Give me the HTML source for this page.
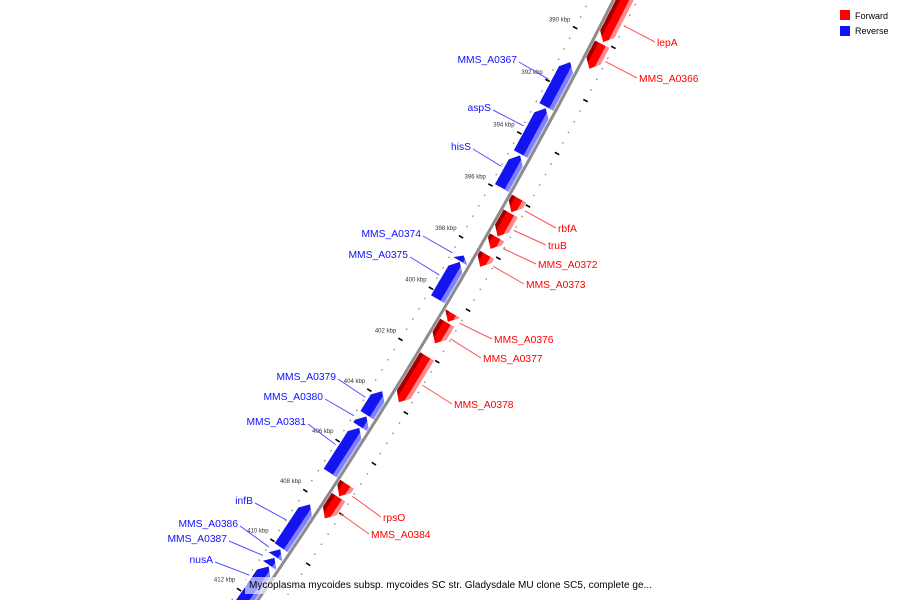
<!DOCTYPE html>
<html><head><meta charset="utf-8"><style>
html,body{margin:0;padding:0;background:#fff;width:900px;height:600px;overflow:hidden;}
svg{display:block;font-family:"Liberation Sans","DejaVu Sans",sans-serif;overflow:hidden;}
</style></head><body>
<svg id="map" width="900" height="600" viewBox="0 0 900 600" xmlns="http://www.w3.org/2000/svg">
  <defs><clipPath id="frame"><rect x="0" y="0" width="900" height="600"/></clipPath></defs>
  <g clip-path="url(#frame)">
  <g id="ticks"></g>
  <g id="backbone"></g>
  <g id="genes"></g>
  <g id="labels"></g>
  <g>
    <rect x="840" y="10" width="10" height="10" fill="#ff0000"/>
    <text x="855" y="19" font-size="9" fill="#000">Forward</text>
    <rect x="840" y="26" width="10" height="10" fill="#1010ff"/>
    <text x="855" y="34" font-size="9" fill="#000">Reverse</text>
  </g>
  <g>
    <rect x="245" y="577" width="412" height="17" fill="#fff" fill-opacity="0.6"/>
    <text x="249" y="588" font-size="10" fill="#000" textLength="403" lengthAdjust="spacing">Mycoplasma mycoides subsp. mycoides SC str. Gladysdale MU clone SC5, complete ge...</text>
  </g>
  </g>
</svg>
<script>
// ---- data ----
const geneNames = ["lepA","MMS_A0366","MMS_A0367","aspS","hisS","rbfA","truB","MMS_A0372","MMS_A0373","MMS_A0374","MMS_A0375","MMS_A0376","MMS_A0377","MMS_A0378","MMS_A0379","MMS_A0380","MMS_A0381","rpsO","MMS_A0384","infB","MMS_A0386","MMS_A0387","nusA"];
const geneStart = [387.5,390.08,391.1,392.85,394.65,395.93,396.5,397.42,398.09,398.5,398.75,400.36,400.72,402.03,403.8,404.8,405.25,407.06,407.58,408.3,410.1,410.45,410.8];
const geneEnd   = [390.0,391.0,392.8,394.6,395.9,396.45,397.38,397.86,398.55,398.72,400.2,400.68,401.52,403.82,404.75,405.2,407.05,407.54,408.42,410.04,410.4,410.75,413.0];
const geneStrand = [1,1,-1,-1,-1,1,1,1,1,-1,-1,1,1,1,-1,-1,-1,1,1,-1,-1,-1,-1];
// label text anchor positions (layout)
const labelX = [657,639,517,491,471,558,548,538,526,421,408,494,483,454,336,323,306,383,371,253,238,227,213];
const labelY = [42,78,59,107,146,228,245,264,284,233,254,339,358,404,376,396,421,517,534,500,523,538,559];
const tickMajor = [390,392,394,396,398,400,402,404,406,408,410,412];
const tickMinorStep = 0.4;
const axisMin = 386, axisMax = 413.4;

// ---- geometry ----
const CX=-4103, CY=-2389, R=5287;
function ang(k){return (27.32+(k-390)*0.3241)*Math.PI/180;}
function pt(k,r){const a=ang(k);return [CX+r*Math.cos(a), CY+r*Math.sin(a)];}
const NS="http://www.w3.org/2000/svg";
function mk(tag,attrs,parent){const e=document.createElementNS(NS,tag);for(const k in attrs)e.setAttribute(k,attrs[k]);parent.appendChild(e);return e;}
function arcPts(k1,k2,r){const out=[];const n=Math.max(2,Math.ceil(Math.abs(k2-k1)/0.1));for(let i=0;i<=n;i++){out.push(pt(k1+(k2-k1)*i/n,r));}return out;}

// backbone
const bb=document.getElementById('backbone');
const bbPts=arcPts(axisMin,axisMax,R).map(p=>p[0].toFixed(1)+','+p[1].toFixed(1)).join(' ');
const bbl=mk('polyline',{points:bbPts,fill:'none',stroke:'#8c8c8c','stroke-width':3},bb);



// ticks
const tg=document.getElementById('ticks');
for(let k=axisMin;k<=axisMax+1e-6;k+=tickMinorStep){
  const kk=Math.round(k*10)/10;
  const isMajor=tickMajor.some(t=>Math.abs(t-kk)<1e-6);
  [-1,1].forEach(side=>{
    if(isMajor){
      const a=pt(kk,R+side*19),b=pt(kk,R+side*24);
      const l=mk('line',{x1:a[0],y1:a[1],x2:b[0],y2:b[1],stroke:'#000','stroke-width':1.6},tg);
      
      
    }else{
      const p=pt(kk,R+side*21.5);
      const d=mk('rect',{x:p[0]-0.7,y:p[1]-0.7,width:1.4,height:1.4,fill:'#888'},tg);
      
      
    }
  });
}
tickMajor.forEach(t=>{
  const p=pt(t,R-39);
  const tx=mk('text',{x:p[0],y:p[1]+2,'font-size':6,'text-anchor':'middle',fill:'#333'},tg);
  tx.textContent=t+' kbp';
  
  
});

// genes
function shape(k1,k2,dir,s1,s2,r1,r2){
  const a=Math.min(0.3,k2-k1), rm=(r1+r2)/2, hh=(r2-r1)/2;
  const f=r=>a*Math.abs(r-rm)/hh;
  const st=r=>dir<0?k1+f(r):k1;
  const en=r=>dir>0?k2-f(r):k2;
  let P=[];
  P=P.concat(arcPts(st(s2),en(s2),s2));
  const mids=(rm>s1&&rm<s2)?[rm]:[];
  mids.forEach(r=>P.push(pt(en(r),r)));
  P=P.concat(arcPts(en(s1),st(s1),s1));
  mids.forEach(r=>P.push(pt(st(r),r)));
  return P.map(p=>p[0].toFixed(1)+','+p[1].toFixed(1)).join(' ');
}
const gg=document.getElementById('genes');
const lg=document.getElementById('labels');
for(let i=0;i<geneNames.length;i++){
  const k1=geneStart[i],k2=geneEnd[i],d=geneStrand[i];
  const g=mk('g',{},gg);
  
  
  let layers;
  if(d>0){
    const r1=R+2,r2=R+18;
    layers=[[r1,r2,'#ff0000'],[r1,r1+4,'#a00000'],[r2-4,r2,'#ff8c8c']];
    layers.forEach(L=>mk('polygon',{points:shape(k1,k2,d,L[0],L[1],r1,r2),fill:L[2]},g));
  }else{
    const r1=R-18,r2=R-2;
    layers=[[r1,r2,'#1414f0'],[r2-5,r2-1,'#8080ff'],[r2-1,r2,'#c0c0ff']];
    layers.forEach(L=>mk('polygon',{points:shape(k1,k2,d,L[0],L[1],r1,r2),fill:L[2]},g));
  }
  // label
  const mid=(k1+Math.min(k2,412))/2;
  const gp=pt(d>0?Math.max(mid,389.2):mid,R+d*21);
  const col=d>0?'#ff0000':'#1010ff';
  const lx=d>0?labelX[i]-2:labelX[i]+2, ly=d>0?labelY[i]:labelY[i]+3;
  const ln=mk('line',{x1:gp[0],y1:gp[1],x2:lx,y2:ly,stroke:d>0?'#ff5050':'#5050ff','stroke-width':1},lg);
  
  
  const t=mk('text',{x:labelX[i],y:labelY[i]+4,'font-size':10.3,'text-anchor':d>0?'start':'end',fill:col},lg);
  t.textContent=geneNames[i];
  
  
}
</script>
</body></html>
